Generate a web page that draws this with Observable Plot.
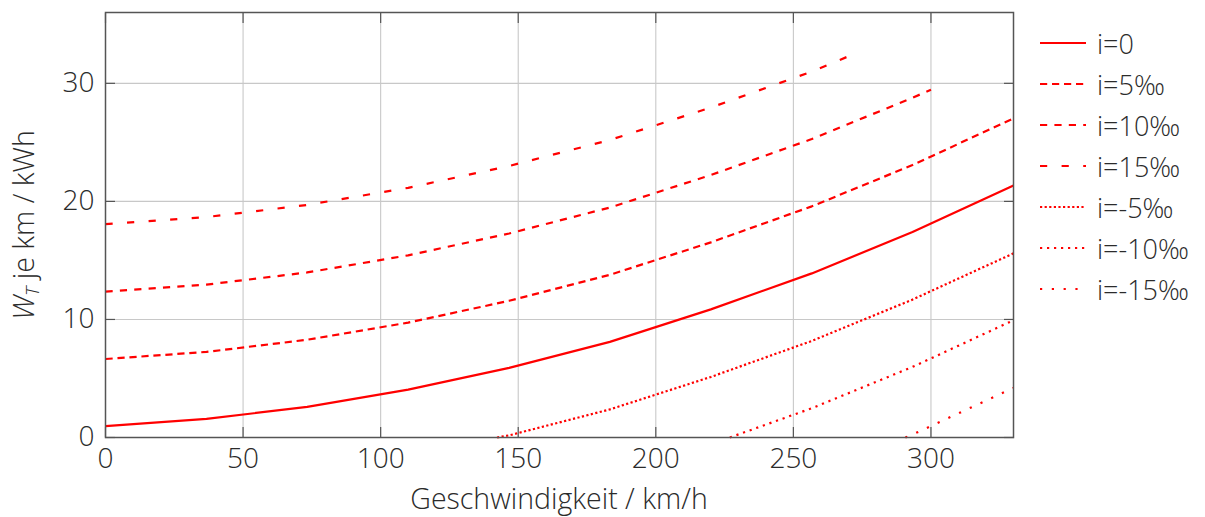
<!DOCTYPE html>
<html>
<head>
<meta charset="utf-8">
<script src="https://cdn.jsdelivr.net/npm/d3@7"></script>
<script src="https://cdn.jsdelivr.net/npm/@observablehq/plot@0.6"></script>
<style>
  body { margin: 0; background: #fff; }
  #wrap { position: relative; width: 1205px; height: 517px; font-family: "Open Sans", sans-serif; font-weight: 300; color: #2b2b2b; }
  #legend { position: absolute; left: 1040px; top: 0; }
  .row { position: absolute; left: 0; height: 40px; display: flex; align-items: center; white-space: nowrap; font-size: 27px; }
  .row svg { margin-right: 11px; }
</style>
</head>
<body>
<div id="wrap"><div id="legend"></div></div>
<script>
// ---- data ----
const seriesNames = ["i=0", "i=5‰", "i=10‰", "i=15‰", "i=-5‰", "i=-10‰", "i=-15‰"];

const speedsI0 = [0, 36.7, 73.3, 110, 146.7, 183.3, 220, 256.7, 293.3, 330];
const wI0 = [0.97, 1.57, 2.6, 4.05, 5.9, 8.1, 10.85, 13.9, 17.4, 21.35];

const speedsI5 = [0, 36.7, 73.3, 110, 146.7, 183.3, 220, 256.7, 293.3, 330];
const wI5 = [6.65, 7.25, 8.28, 9.73, 11.58, 13.78, 16.53, 19.58, 23.08, 27.03];

const speedsI10 = [0, 36.7, 73.3, 110, 146.7, 183.3, 220, 256.7, 293.3, 300];
const wI10 = [12.35, 12.95, 13.98, 15.43, 17.28, 19.48, 22.23, 25.28, 28.78, 29.45];

const speedsI15 = [0, 36.7, 73.3, 110, 146.7, 183.3, 220, 256.7, 272.7];
const wI15 = [18.07, 18.67, 19.7, 21.15, 23.0, 25.2, 27.95, 31.0, 32.55];

const speedsIm5 = [142.3, 146.7, 183.3, 220, 256.7, 293.3, 330];
const wIm5 = [0, 0.18, 2.38, 5.13, 8.18, 11.68, 15.6];

const speedsIm10 = [226.9, 256.7, 293.3, 330];
const wIm10 = [0, 2.48, 5.98, 9.93];

const speedsIm15 = [290.7, 293.3, 330];
const wIm15 = [0, 0.25, 4.2];

const xTicks = [0, 50, 100, 150, 200, 250, 300];
const yTicks = [0, 10, 20, 30];

// ---- styles ----
const lineColor = "#ff0000";
const dashes = [null, "7.2 4.8", "7.2 7.2", "7.2 14.4", "2.2 2.4", "2.2 4.8", "2.2 9.6"];
const textColor = "#2b2b2b";
const frameColor = "#555";

const allSpeeds = [speedsI0, speedsI5, speedsI10, speedsI15, speedsIm5, speedsIm10, speedsIm15];
const allW = [wI0, wI5, wI10, wI15, wIm5, wIm10, wIm15];
const seriesData = seriesNames.map((name, k) => allSpeeds[k].map((v, j) => ({series: name, v, w: allW[k][j]})));

const lineMarks = seriesData.map((d, k) => Plot.line(d, {
  x: "v", y: "w", stroke: lineColor, strokeWidth: 2.2,
  strokeDasharray: dashes[k] || undefined, strokeLinecap: "butt", strokeLinejoin: "round"
}));

const chart = Plot.plot({
  width: 1205, height: 517,
  marginLeft: 105, marginRight: 192, marginTop: 12, marginBottom: 80,
  x: {domain: [0, 330]},
  y: {domain: [0, 36]},
  style: {fontFamily: "'Open Sans', sans-serif", fontWeight: 300, color: textColor, background: "transparent"},
  marks: [
    Plot.gridX(xTicks.slice(1), {stroke: "#c8c8c8", strokeOpacity: 1, strokeWidth: 1.1}),
    Plot.gridY(yTicks.slice(1), {stroke: "#c8c8c8", strokeOpacity: 1, strokeWidth: 1.1}),
    Plot.axisX({anchor: "bottom", ticks: xTicks, tickSize: -10, fill: "none", stroke: frameColor, strokeWidth: 1.2}),
    Plot.axisX({anchor: "top", ticks: xTicks, tickSize: -10, fill: "none", stroke: frameColor, strokeWidth: 1.2}),
    Plot.axisY({anchor: "left", ticks: yTicks, tickSize: -10, fill: "none", stroke: frameColor, strokeWidth: 1.2}),
    Plot.axisY({anchor: "right", ticks: yTicks, tickSize: -10, fill: "none", stroke: frameColor, strokeWidth: 1.2}),
    Plot.axisX({anchor: "bottom", ticks: xTicks, tickSize: 0, tickPadding: 11, fontSize: 28, label: null, fill: textColor}),
    Plot.axisY({anchor: "left", ticks: yTicks, tickSize: 0, tickPadding: 11, fontSize: 28, label: null, fill: textColor}),
    ...lineMarks,
    Plot.frame({stroke: frameColor, strokeWidth: 1.5})
  ]
});

const wrap = document.getElementById("wrap");
wrap.insertBefore(chart, wrap.firstChild);

// axis titles
const svg = d3.select(chart);
svg.append("text")
  .attr("x", 559).attr("y", 509)
  .attr("text-anchor", "middle")
  .attr("font-size", 28.5).attr("fill", textColor)
  .text("Geschwindigkeit / km/h");

const yl = svg.append("text")
  .attr("transform", "translate(34,225) rotate(-90)")
  .attr("text-anchor", "middle")
  .attr("font-size", 28.5).attr("fill", textColor);
yl.append("tspan").attr("font-style", "italic").text("W");
yl.append("tspan").attr("font-style", "italic").attr("font-size", 19).attr("dy", 5).text("T");
yl.append("tspan").attr("dy", -5).text(" je km / kWh");

// legend
const legend = d3.select("#legend");
seriesNames.forEach((name, k) => {
  const row = legend.append("div").attr("class", "row").style("top", (23 + 41 * k) + "px");
  const s = row.append("svg").attr("width", 46).attr("height", 10);
  s.append("line").attr("x1", 0).attr("x2", 46).attr("y1", 5).attr("y2", 5)
    .attr("stroke", lineColor).attr("stroke-width", 2.2)
    .attr("stroke-dasharray", dashes[k]);
  row.append("span").text(name);
});
</script>
</body>
</html>
